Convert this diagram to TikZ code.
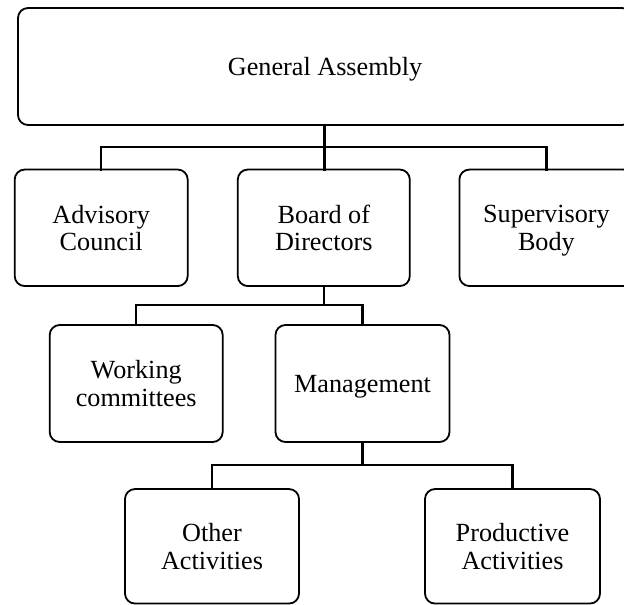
\documentclass[tikz,border=0pt]{standalone}
\usepackage{fontspec}
\setmainfont{Liberation Serif}
\begin{document}
\begin{tikzpicture}[x=1pt,y=-1pt,
  box/.style={draw=black, line width=1.8pt, rounded corners=10pt, align=center,
    inner sep=0pt, outer sep=0pt, text depth=0pt, font=\fontsize{26.2}{27.7}\selectfont},
  conn/.style={draw=black, line width=2.4pt, line cap=rect}]
\useasboundingbox (0,0) rectangle (624,605);
\clip (0,0) rectangle (624,605);
% boxes
\node[box, minimum width=614pt, minimum height=117pt] (ga) at (325,66.5) {General Assembly};
\node[box, minimum width=173pt, minimum height=116.5pt] (adv) at (101.2,227.8) {Advisory\\Council};
\node[box, minimum width=172pt, minimum height=116.5pt] (bod) at (323.8,227.8) {Board of\\Directors};
\node[box, minimum width=174pt, minimum height=116.5pt] (sup) at (546.4,227.8) {Supervisory\\Body};
\node[box, minimum width=173pt, minimum height=117pt] (wc) at (136.2,383.5) {Working\\committees};
\node[box, minimum width=174pt, minimum height=117pt] (mg) at (362.5,383.5) {Management};
\node[box, minimum width=174pt, minimum height=114.5pt] (oa) at (212,546.3) {Other\\Activities};
\node[box, minimum width=175pt, minimum height=114.5pt] (pa) at (512.5,546.3) {Productive\\Activities};
% junctions
\coordinate (j1) at (324.4,147);
\coordinate (j2) at (323.8,305);
\coordinate (j3) at (362.5,465);
% connectors
\draw[conn] (ga.south -| j1) -- (j1);
\draw[conn] (adv.north) |- (j1) -| (sup.north);
\draw[conn] (j1) -- (bod.north -| j1);
\draw[conn] (bod.south) -- (j2);
\draw[conn] (wc.north) |- (j2) -| (mg.north);
\draw[conn] (mg.south) -- (j3);
\draw[conn] (oa.north) |- (j3) -| (pa.north);
\end{tikzpicture}
\end{document}
